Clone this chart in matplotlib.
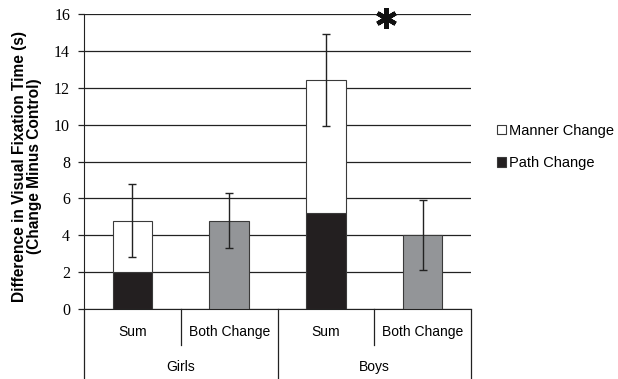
import numpy as np
import matplotlib

matplotlib.use("Agg")
import matplotlib.pyplot as plt
from matplotlib.patches import Patch
import matplotlib.transforms as mtransforms

groups = ["Girls", "Boys"]
conditions = ["Sum", "Both Change"]
path_change = [2.0, 5.2]          # black, bottom of "Sum" bars
sum_total = [4.8, 12.4]           # top of stacked "Sum" bars
sum_err = [2.0, 2.5]
both_change = [4.8, 4.0]          # gray bars
both_err = [1.5, 1.9]
yticks = [0, 2, 4, 6, 8, 10, 12, 14, 16]

BLACK = "#231f20"
GRAY = "#939598"
EDGE = "#3a3a3a"

fig = plt.figure(figsize=(6.18, 3.79), dpi=100)
ax = fig.add_axes([84 / 618, 70 / 379, 387 / 618, 295 / 379])

w = 0.41
sum_x = np.array([0.5, 2.5])
both_x = np.array([1.5, 3.5])
manner = np.array(sum_total) - np.array(path_change)

ax.bar(sum_x, path_change, w, color=BLACK, edgecolor=EDGE, lw=0.8, zorder=3)
ax.bar(sum_x, manner, w, bottom=path_change, color="white", edgecolor=EDGE, lw=0.8, zorder=3)
ax.bar(both_x, both_change, w, color=GRAY, edgecolor=EDGE, lw=0.8, zorder=3)
ax.errorbar(sum_x, sum_total, yerr=sum_err, fmt="none", ecolor="#222222",
            elinewidth=1, capsize=3, capthick=1, zorder=4)
ax.errorbar(both_x, both_change, yerr=both_err, fmt="none", ecolor="#222222",
            elinewidth=1, capsize=3, capthick=1, zorder=4)

ax.set_xlim(0, 4)
ax.set_ylim(0, 16)
ax.set_yticks(yticks)
ax.set_yticklabels([str(t) for t in yticks], family="Liberation Serif", fontsize=11.5)
ax.yaxis.grid(True, color="#222222", lw=0.9)
ax.set_axisbelow(True)
ax.tick_params(axis="y", length=4, width=0.9, color="#222222", pad=6)
ax.set_xticks([])
for s in ["top", "right"]:
    ax.spines[s].set_visible(False)
ax.spines["left"].set_color("#222222")
ax.spines["bottom"].set_color("#222222")

# multi-level category axis
tr = mtransforms.blended_transform_factory(ax.transData, ax.transAxes)
low = -36 / 295
bottom = -70 / 295
for x in [0, 2, 4]:
    ax.plot([x, x], [0, bottom], color="#222222", lw=0.9, transform=tr, clip_on=False)
for x in [1, 3]:
    ax.plot([x, x], [0, low], color="#222222", lw=0.9, transform=tr, clip_on=False)
for xs, xb in zip(sum_x, both_x):
    ax.text(xs, -23 / 295, conditions[0], transform=tr, ha="center", va="center",
            family="Liberation Sans", fontsize=10)
    ax.text(xb, -23 / 295, conditions[1], transform=tr, ha="center", va="center",
            family="Liberation Sans", fontsize=10)
for i, g in enumerate(groups):
    ax.text(2 * i + 1, -58 / 295, g, transform=tr, ha="center", va="center",
            family="Liberation Sans", fontsize=10)

# significance marker
ax.plot([3.12], [15.8], marker=(6, 2, 0), markersize=15, mew=3.2,
        color="#111111", clip_on=False, zorder=5)

fig.text(27 / 618, 1 - 166 / 379, "Difference in Visual Fixation Time (s)\n(Change Minus Control)",
         rotation=90, ha="center", va="center", family="Liberation Sans",
         fontweight="bold", fontsize=11.2, linespacing=0.95)

handles = [Patch(facecolor="white", edgecolor=EDGE, lw=0.8),
           Patch(facecolor=BLACK, edgecolor=EDGE, lw=0.8)]
fig.legend(handles, ["Manner Change", "Path Change"], loc="center left",
           bbox_to_anchor=(497 / 618, 1 - 147 / 379), frameon=False,
           borderpad=0, borderaxespad=0,
           handlelength=0.6, handleheight=0.6, handletextpad=0.2,
           labelspacing=1.25, prop={"family": "Liberation Sans", "size": 10.5})

fig.savefig("out.png", dpi=100)
